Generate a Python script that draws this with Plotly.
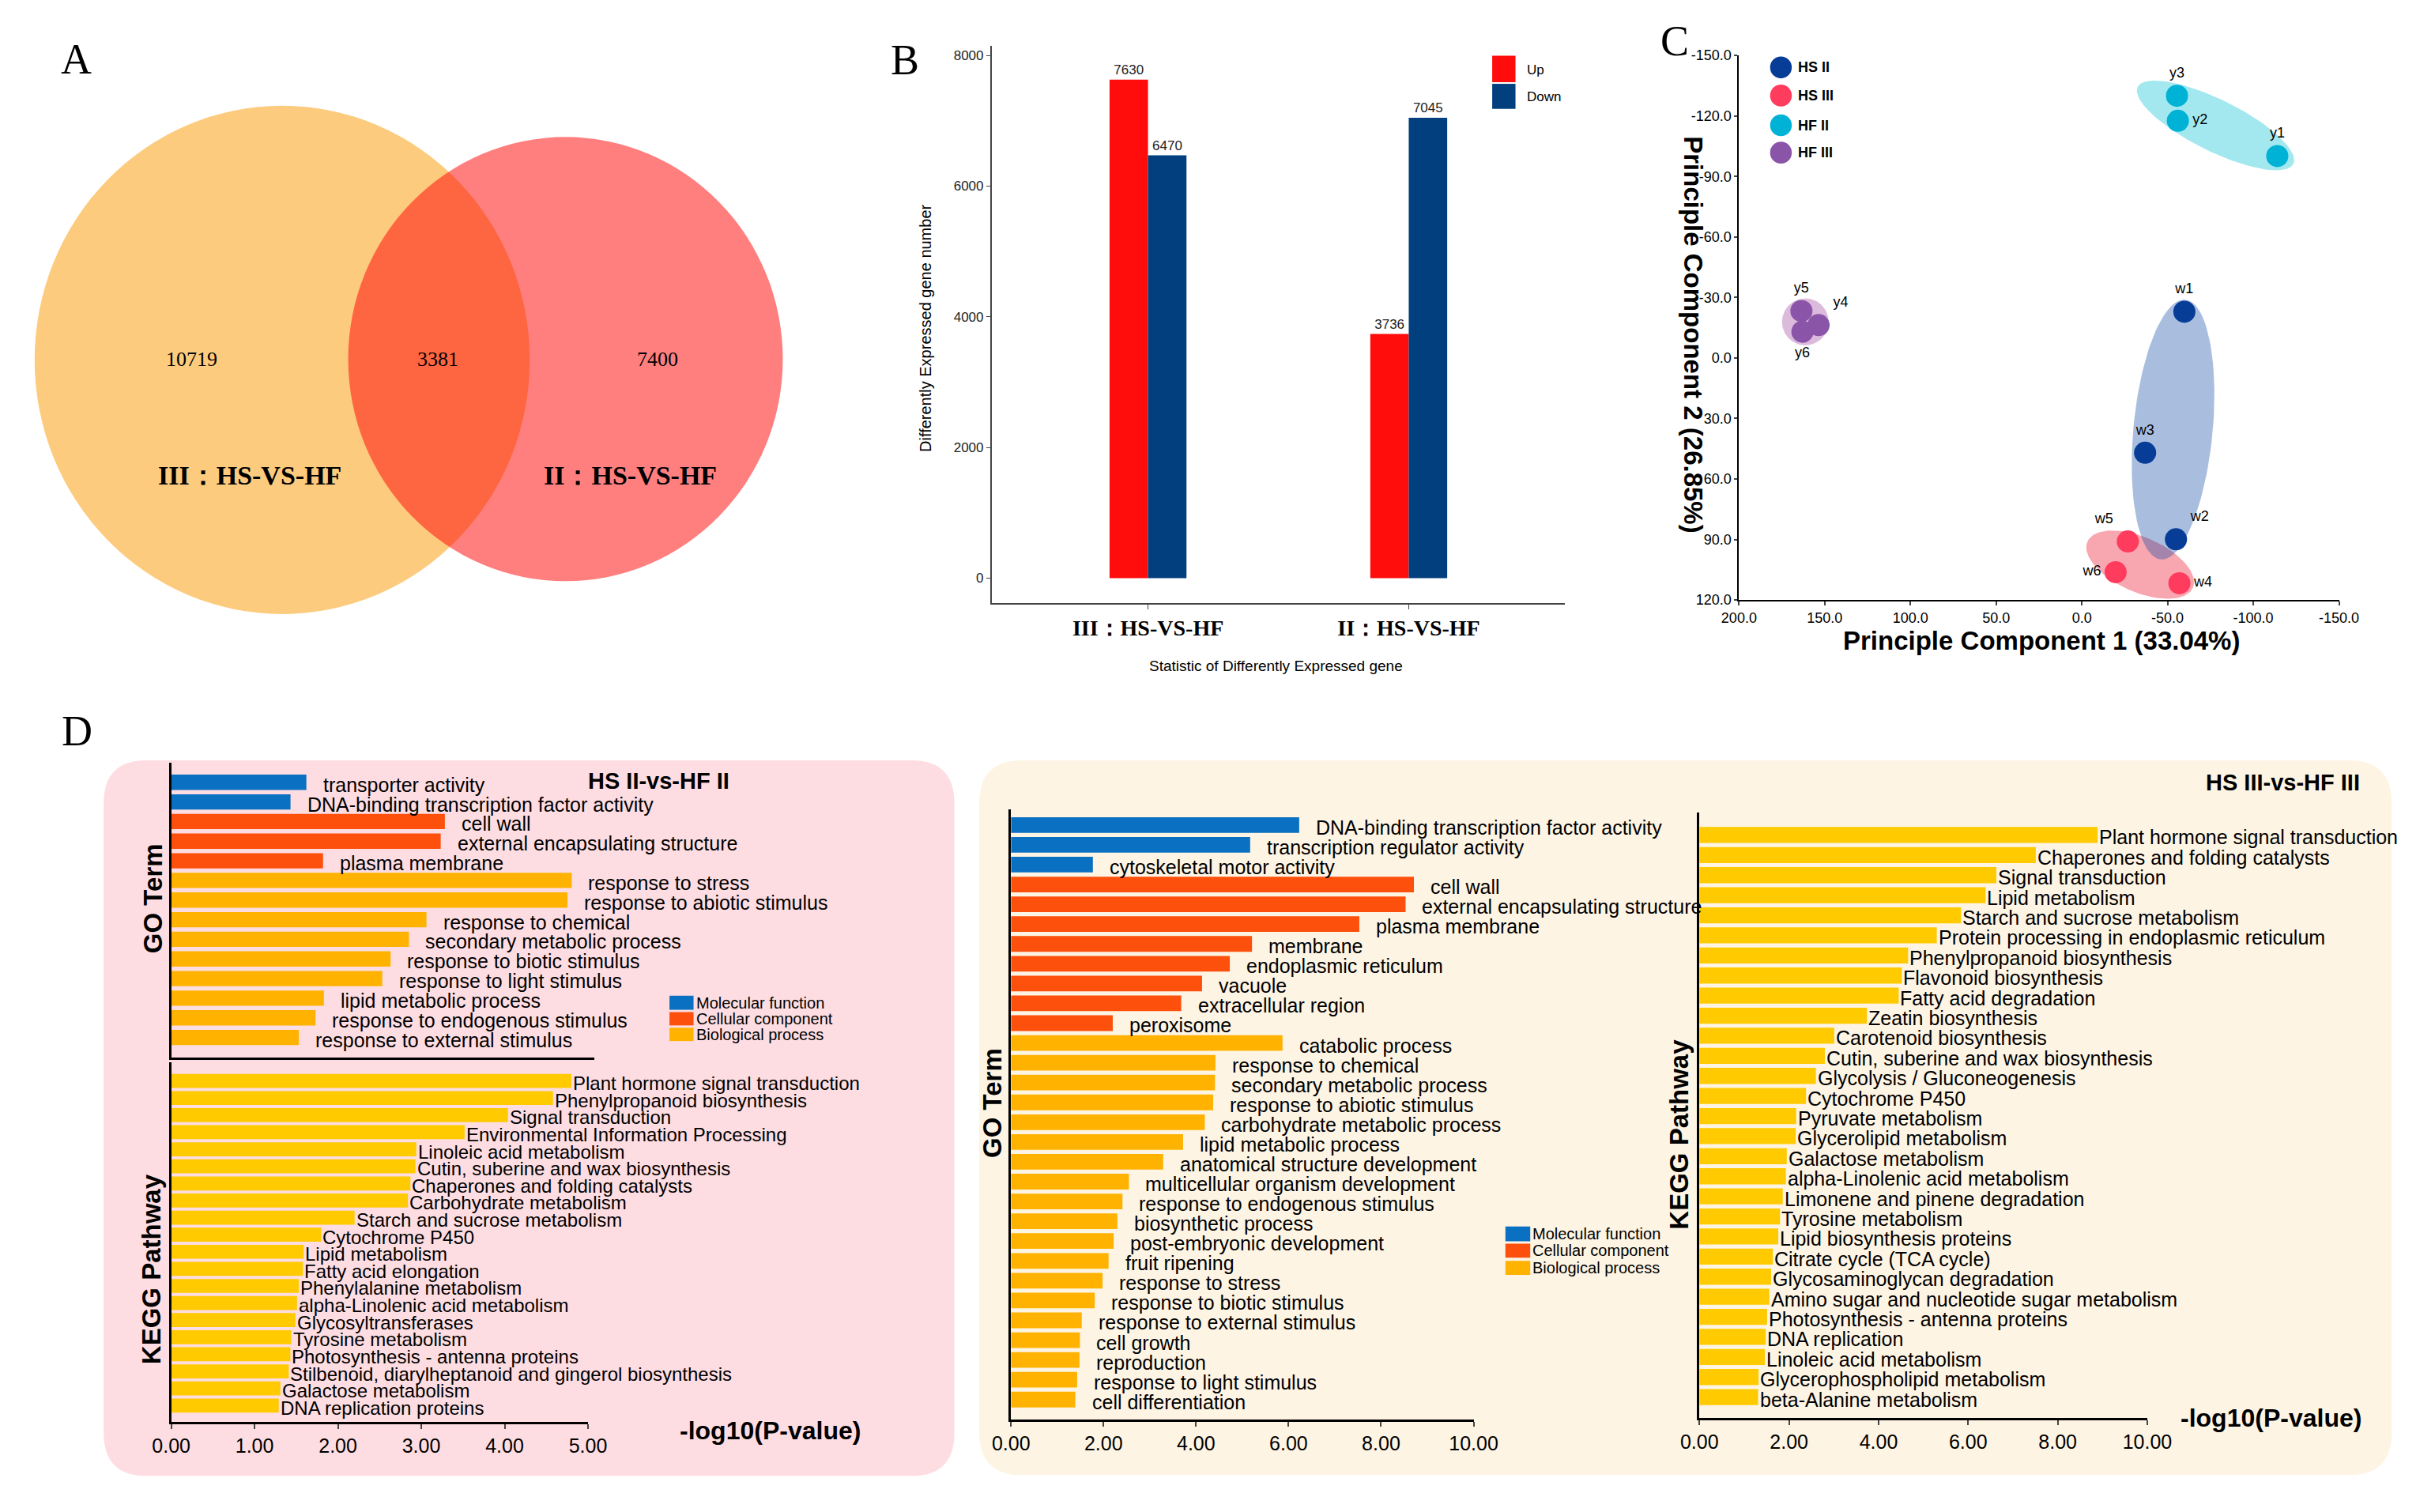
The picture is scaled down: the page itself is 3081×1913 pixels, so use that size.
import numpy as np
import plotly.graph_objects as go

W, H = 3081, 1913          # target picture size
OFF = 8                    # default page margin around the figure
FW, FH = W - 2 * OFF, H - 2 * OFF
SANS = "Liberation Sans, Arial, sans-serif"
SERIF = "Liberation Serif, Times New Roman, serif"

# ---------------- data ----------------
# A: Venn
venn_sets = ["III：HS-VS-HF", "II：HS-VS-HF"]
venn_only = [10719, 7400]
venn_shared = 3381

# B: DEG counts
deg_groups = ["III：HS-VS-HF", "II：HS-VS-HF"]
deg_up = [7630, 3736]
deg_down = [6470, 7045]

# C: PCA
pca_samples = ["w1", "w2", "w3", "w4", "w5", "w6", "y1", "y2", "y3", "y4", "y5", "y6"]
pca_group = ["HS II", "HS II", "HS II", "HS III", "HS III", "HS III",
             "HF II", "HF II", "HF II", "HF III", "HF III", "HF III"]
pc1 = [-59.8, -54.9, -36.9, -56.9, -26.8, -19.7, -114.0, -56.0, -55.5, 153.6, 163.6, 163.0]
pc2 = [-22.9, 89.9, 47.0, 111.7, 91.0, 106.2, -100.1, -117.6, -130.0, -16.3, -23.3, -13.0]
pca_groups = ["HS II", "HS III", "HF II", "HF III"]
pc_xticks = [200, 150, 100, 50, 0, -50, -100, -150]
pc_xticktext = ["200.0", "150.0", "100.0", "50.0", "0.0", "-50.0", "-100.0", "-150.0"]
pc_yticks = [-150, -120, -90, -60, -30, 0, 30, 60, 90, 120]
pc_yticktext = ["-150.0", "-120.0", "-90.0", "-60.0", "-30.0", "0.0", "30.0", "60.0", "90.0", "120.0"]
# ellipse: centre, half major-axis vector, half minor-axis vector (data units)
ell_center = {"HF II": (-78.0, -115.3), "HF III": (161.3, -17.9),
              "HS III": (-34.0, 102.5), "HS II": (-53.2, 35.5)}
ell_major = {"HF II": (-45.4, 19.05), "HF III": (13.6, 0.0),
             "HS III": (-30.8, 11.4), "HS II": (-7.2, -64.4)}
ell_minor = {"HF II": (6.6, 11.5), "HF III": (0.0, 11.6),
             "HS III": (6.3, 12.5), "HS II": (-23.0, 1.9)}

# D: enrichment
go_class_names = ["Molecular function", "Cellular component", "Biological process"]

go2_terms = ["transporter activity", "DNA-binding transcription factor activity", "cell wall",
             "external encapsulating structure", "plasma membrane", "response to stress",
             "response to abiotic stimulus", "response to chemical", "secondary metabolic process",
             "response to biotic stimulus", "response to light stimulus", "lipid metabolic process",
             "response to endogenous stimulus", "response to external stimulus"]
go2_class = ["MF", "MF", "CC", "CC", "CC", "BP", "BP", "BP", "BP", "BP", "BP", "BP", "BP", "BP"]
go2_vals = [1.62, 1.43, 3.28, 3.23, 1.82, 4.80, 4.75, 3.06, 2.85, 2.63, 2.53, 1.83, 1.73, 1.53]

kegg2_terms = ["Plant hormone signal transduction", "Phenylpropanoid biosynthesis", "Signal transduction",
               "Environmental Information Processing", "Linoleic acid metabolism",
               "Cutin, suberine and wax biosynthesis", "Chaperones and folding catalysts",
               "Carbohydrate metabolism", "Starch and sucrose metabolism", "Cytochrome P450",
               "Lipid metabolism", "Fatty acid elongation", "Phenylalanine metabolism",
               "alpha-Linolenic acid metabolism", "Glycosyltransferases", "Tyrosine metabolism",
               "Photosynthesis - antenna proteins", "Stilbenoid, diarylheptanoid and gingerol biosynthesis",
               "Galactose metabolism", "DNA replication proteins"]
kegg2_vals = [4.80, 4.58, 4.04, 3.52, 2.94, 2.93, 2.87, 2.84, 2.20, 1.80,
              1.59, 1.58, 1.53, 1.51, 1.49, 1.44, 1.43, 1.41, 1.31, 1.29]

go3_terms = ["DNA-binding transcription factor activity", "transcription regulator activity",
             "cytoskeletal motor activity", "cell wall", "external encapsulating structure",
             "plasma membrane", "membrane", "endoplasmic reticulum", "vacuole", "extracellular region",
             "peroxisome", "catabolic process", "response to chemical", "secondary metabolic process",
             "response to abiotic stimulus", "carbohydrate metabolic process", "lipid metabolic process",
             "anatomical structure development", "multicellular organism development",
             "response to endogenous stimulus", "biosynthetic process", "post-embryonic development",
             "fruit ripening", "response to stress", "response to biotic stimulus",
             "response to external stimulus", "cell growth", "reproduction",
             "response to light stimulus", "cell differentiation"]
go3_class = ["MF"] * 3 + ["CC"] * 8 + ["BP"] * 19
go3_vals = [6.23, 5.17, 1.77, 8.71, 8.53, 7.53, 5.21, 4.73, 4.13, 3.68, 2.20,
            5.87, 4.42, 4.41, 4.37, 4.19, 3.72, 3.29, 2.55, 2.41, 2.30, 2.22,
            2.11, 1.98, 1.81, 1.53, 1.49, 1.48, 1.43, 1.39]

kegg3_terms = ["Plant hormone signal transduction", "Chaperones and folding catalysts", "Signal transduction",
               "Lipid metabolism", "Starch and sucrose metabolism",
               "Protein processing in endoplasmic reticulum", "Phenylpropanoid biosynthesis",
               "Flavonoid biosynthesis", "Fatty acid degradation", "Zeatin biosynthesis",
               "Carotenoid biosynthesis", "Cutin, suberine and wax biosynthesis",
               "Glycolysis / Gluconeogenesis", "Cytochrome P450", "Pyruvate metabolism",
               "Glycerolipid metabolism", "Galactose metabolism", "alpha-Linolenic acid metabolism",
               "Limonene and pinene degradation", "Tyrosine metabolism", "Lipid biosynthesis proteins",
               "Citrate cycle (TCA cycle)", "Glycosaminoglycan degradation",
               "Amino sugar and nucleotide sugar metabolism", "Photosynthesis - antenna proteins",
               "DNA replication", "Linoleic acid metabolism", "Glycerophospholipid metabolism",
               "beta-Alanine metabolism"]
kegg3_vals = [8.89, 7.51, 6.63, 6.39, 5.84, 5.30, 4.66, 4.52, 4.45, 3.74, 3.01, 2.80, 2.60, 2.38,
              2.16, 2.15, 1.95, 1.93, 1.86, 1.80, 1.76, 1.64, 1.60, 1.56, 1.51, 1.48, 1.46, 1.32, 1.31]

# ---------------- styles ----------------
go_colors = {"MF": "#0A70C2", "CC": "#FD500C", "BP": "#FFB300"}
kegg_color = "#FFCA00"
up_color, down_color = "#FF0C0C", "#013F7E"
pca_colors = {"HS II": "#073C97", "HS III": "#FF3B5E", "HF II": "#00B2D6", "HF III": "#8A55A8"}
ell_fill = {"HS II": "rgba(9,69,163,0.35)", "HS III": "rgba(240,60,80,0.45)",
            "HF II": "rgba(0,190,210,0.36)", "HF III": "rgba(150,45,150,0.33)"}
pca_textpos = ["top center", "top right", "top center", "middle right", "top left", "middle left",
               "top center", "middle right", "top center", "top right", "top center", "bottom center"]


def PX(p):
    return (p - OFF) / FW


def PY(p):
    return 1 - (p - OFF) / FH


def dom_x(a, b):
    return [PX(a), PX(b)]


def dom_y(top, bottom):
    return [PY(bottom), PY(top)]


def font(size, bold=False, family=SANS, color="black"):
    return dict(family=family, size=size, color=color, weight="bold" if bold else "normal")


annotations = []
shapes = []


def ann(text, x, y, size, bold=False, family=SANS, angle=0, xanchor="center", yanchor="middle"):
    annotations.append(dict(text=text, x=PX(x), y=PY(y), xref="paper", yref="paper",
                            showarrow=False, font=font(size, bold, family), textangle=angle,
                            xanchor=xanchor, yanchor=yanchor))


def rrect(x0, y0, x1, y1, r, color):
    X0, X1, Yt, Yb = PX(x0), PX(x1), PY(y0), PY(y1)
    rx, ry = r / FW, r / FH
    path = (f"M {X0+rx},{Yt} L {X1-rx},{Yt} Q {X1},{Yt} {X1},{Yt-ry} "
            f"L {X1},{Yb+ry} Q {X1},{Yb} {X1-rx},{Yb} L {X0+rx},{Yb} "
            f"Q {X0},{Yb} {X0},{Yb+ry} L {X0},{Yt-ry} Q {X0},{Yt} {X0+rx},{Yt} Z")
    shapes.append(dict(type="path", path=path, xref="paper", yref="paper",
                       fillcolor=color, line=dict(width=0), layer="below"))


def prect(x0, y0, x1, y1, color):
    shapes.append(dict(type="rect", x0=PX(x0), x1=PX(x1), y0=PY(y1), y1=PY(y0),
                       xref="paper", yref="paper", fillcolor=color, line=dict(width=0)))


fig = go.Figure()

# ---------------- A: Venn ----------------
shapes.append(dict(type="circle", xref="paper", yref="paper", x0=PX(20), x1=PX(658),
                   y0=PY(775), y1=PY(125), fillcolor="#FDCB7E", line=dict(width=0)))
shapes.append(dict(type="circle", xref="paper", yref="paper", x0=PX(424), x1=PX(984),
                   y0=PY(733), y1=PY(165), fillcolor="rgba(255,9,9,0.52)", line=dict(width=0)))
ann(str(venn_only[0]), 222, 449, 26, family=SERIF)
ann(str(venn_shared), 540, 449, 26, family=SERIF)
ann(str(venn_only[1]), 823, 449, 26, family=SERIF)
ann(venn_sets[0], 297, 598, 34, bold=True, family=SERIF)
ann(venn_sets[1], 787, 598, 34, bold=True, family=SERIF)

# ---------------- B: bar chart ----------------
fig.add_trace(go.Bar(x=deg_groups, y=deg_up, name="Up", marker=dict(color=up_color, line=dict(width=0)),
                     text=[str(v) for v in deg_up], textposition="outside", textfont=font(17, color="#222"),
                     cliponaxis=False, xaxis="x2", yaxis="y2", showlegend=False))
fig.add_trace(go.Bar(x=deg_groups, y=deg_down, name="Down", marker=dict(color=down_color, line=dict(width=0)),
                     text=[str(v) for v in deg_down], textposition="outside", textfont=font(17, color="#222"),
                     cliponaxis=False, xaxis="x2", yaxis="y2", showlegend=False))
prect(1898, 61, 1928, 95, up_color)
prect(1898, 97, 1928, 129, down_color)
ann("Up", 1941, 79, 17, xanchor="left")
ann("Down", 1941, 114, 17, xanchor="left")
ann("Differently Expressed gene number", 1168, 410, 20, angle=-90)
ann("Statistic of Differently Expressed gene", 1619, 841, 19)

# ---------------- C: PCA ----------------
t = np.linspace(0, 2 * np.pi, 120)
for g in ["HF II", "HF III", "HS III", "HS II"]:
    cx, cy = ell_center[g]
    ux, uy = ell_major[g]
    vx, vy = ell_minor[g]
    ex = cx + ux * np.cos(t) + vx * np.sin(t)
    ey = cy + uy * np.cos(t) + vy * np.sin(t)
    fig.add_trace(go.Scatter(x=ex, y=ey, mode="lines", fill="toself", fillcolor=ell_fill[g],
                             line=dict(width=0), xaxis="x3", yaxis="y3", showlegend=False,
                             hoverinfo="skip"))
for g in pca_groups:
    idx = [i for i, gg in enumerate(pca_group) if gg == g]
    fig.add_trace(go.Scatter(x=[pc1[i] for i in idx], y=[pc2[i] for i in idx],
                             text=[pca_samples[i] for i in idx],
                             textposition=[pca_textpos[i] for i in idx],
                             mode="markers+text", marker=dict(size=28, color=pca_colors[g]),
                             textfont=font(18), cliponaxis=False,
                             xaxis="x3", yaxis="y3", showlegend=False, name=g))
for k, g in enumerate(pca_groups):
    cy = [76, 112, 150, 185][k]
    shapes.append(dict(type="circle", xref="paper", yref="paper", x0=PX(2256), x1=PX(2284),
                       y0=PY(cy + 14), y1=PY(cy - 14), fillcolor=pca_colors[g], line=dict(width=0)))
    ann(g, 2290, cy, 18, bold=True, xanchor="left")
ann("Principle Component 1 (33.04%)", 2606, 809, 33, bold=True)
ann("Principle Component 2 (26.85%)", 2157, 418, 33, bold=True, angle=90)

# ---------------- D ----------------
rrect(109, 962, 1205, 1877, 55, "#FDDDE1")
rrect(1237, 962, 3057, 1876, 55, "#FDF4E4")


def hbar(terms, vals, colors, xa, ya, width, gap, tsize=25):
    n = len(vals)
    fig.add_trace(go.Bar(x=vals, y=list(range(n)), orientation="h", width=width,
                         marker=dict(color=colors, line=dict(width=0)),
                         xaxis=xa, yaxis=ya, showlegend=False, hoverinfo="skip"))
    for i, (term, v) in enumerate(zip(terms, vals)):
        annotations.append(dict(text=term, x=v, y=i, xref=xa, yref=ya, showarrow=False,
                                xanchor="left", yanchor="middle", xshift=gap, yshift=-3,
                                font=font(tsize)))


hbar(go2_terms, go2_vals, [go_colors[c] for c in go2_class], "x4", "y4", 0.78, 19)
hbar(kegg2_terms, kegg2_vals, [kegg_color] * len(kegg2_vals), "x5", "y5", 0.82, 0, 24)
hbar(go3_terms, go3_vals, [go_colors[c] for c in go3_class], "x6", "y6", 0.79, 19)
hbar(kegg3_terms, kegg3_vals, [kegg_color] * len(kegg3_vals), "x7", "y7", 0.80, 0)

# legends for GO classes
for k, c in enumerate(["MF", "CC", "BP"]):
    y0, y1 = [(1263, 1281), (1284, 1301), (1304, 1321)][k]
    prect(838, y0, 869, y1, go_colors[c])
    ann(go_class_names[k], 870, (y0 + y1) / 2, 20, xanchor="left")
    y0, y1 = [(1558, 1577), (1580, 1598), (1602, 1620)][k]
    prect(1915, y0, 1947, y1, go_colors[c])
    ann(go_class_names[k], 1948, (y0 + y1) / 2, 20, xanchor="left")

ann("HS II-vs-HF II", 824, 988, 29, bold=True)
ann("HS III-vs-HF III", 2917, 990, 29, bold=True)
ann("GO Term", 172, 1139, 33, bold=True, angle=-90)
ann("KEGG Pathway", 170, 1613, 33, bold=True, angle=-90)
ann("GO Term", 1254, 1400, 33, bold=True, angle=-90)
ann("KEGG Pathway", 2139, 1440, 33, bold=True, angle=-90)
ann("-log10(P-value)", 968, 1819, 32, bold=True)
ann("-log10(P-value)", 2901, 1803, 32, bold=True)

# panel letters
ann("A", 74, 66, 54, family=SERIF)
ann("B", 1141, 67, 54, family=SERIF)
ann("C", 2133, 42, 54, family=SERIF)
ann("D", 75, 925, 54, family=SERIF)

# ---------------- axes ----------------
axline = dict(showline=True, linecolor="black", linewidth=2.5, showgrid=False, zeroline=False)
layout = dict(
    width=FW, height=FH, margin=dict(l=0, r=0, t=0, b=0),
    paper_bgcolor="white", plot_bgcolor="rgba(0,0,0,0)",
    barmode="group", bargap=0.705, bargroupgap=0,
    showlegend=False, font=dict(family=SANS, color="black"),
    xaxis2=dict(domain=dom_x(1253, 1992), anchor="y2", type="category", categoryarray=deg_groups,
                range=[-0.6, 1.6], showline=True, linecolor="#444", linewidth=1.5, ticks="outside",
                ticklen=6, tickcolor="#444", tickfont=font(28, True, SERIF), showgrid=False),
    yaxis2=dict(domain=dom_y(48, 761), anchor="x2", range=[-383, 8152],
                tickvals=[0, 2000, 4000, 6000, 8000], tickformat="d", showline=True, linecolor="#444",
                linewidth=1.5, ticks="outside", ticklen=5, tickcolor="#444",
                tickfont=font(17, color="#222"), showgrid=False, zeroline=False),
    xaxis3=dict(domain=dom_x(2216, 2989), anchor="y3", range=[200, -150], tickvals=pc_xticks,
                ticktext=pc_xticktext, ticks="outside", ticklen=5, tickwidth=1.5,
                tickfont=font(18), showline=True, linecolor="black", linewidth=2,
                showgrid=False, zeroline=False),
    yaxis3=dict(domain=dom_y(60.7, 757), anchor="x3", range=[120, -150], tickvals=pc_yticks,
                ticktext=pc_yticktext, ticks="outside", ticklen=4, tickwidth=1.5,
                tickfont=font(18), showline=True, linecolor="black", linewidth=2,
                showgrid=False, zeroline=False),
    xaxis4=dict(domain=dom_x(196, 741), anchor="y4", range=[0, 5.07], showticklabels=False,
                ticks="", **axline),
    yaxis4=dict(domain=dom_y(965, 1342), anchor="x4", range=[14.02, -1.0], showticklabels=False,
                ticks="", **axline),
    xaxis5=dict(domain=dom_x(196, 733), anchor="y5", range=[0, 5], tickvals=[0, 1, 2, 3, 4, 5],
                tickformat=".2f", ticks="outside", ticklen=6, tickwidth=2, tickfont=font(25), **axline),
    yaxis5=dict(domain=dom_y(1348, 1808), anchor="x5", range=[19.96, -1.10], showticklabels=False,
                ticks="", **axline),
    xaxis6=dict(domain=dom_x(1278, 1874), anchor="y6", range=[0, 10], tickvals=[0, 2, 4, 6, 8, 10],
                tickformat=".2f", ticks="outside", ticklen=6, tickwidth=2, tickfont=font(25), **axline),
    yaxis6=dict(domain=dom_y(1025, 1805), anchor="x6", range=[30.01, -0.78], showticklabels=False,
                ticks="", **axline),
    xaxis7=dict(domain=dom_x(2165, 2742), anchor="y7", range=[0, 10], tickvals=[0, 2, 4, 6, 8, 10],
                tickformat=".2f", ticks="outside", ticklen=6, tickwidth=2, tickfont=font(25), **axline),
    yaxis7=dict(domain=dom_y(1029, 1803), anchor="x7", range=[29.04, -1.11], showticklabels=False,
                ticks="", **axline),
    xaxis=dict(visible=False, domain=[0, 0.01]),
    yaxis=dict(visible=False, domain=[0, 0.01]),
    annotations=annotations,
    shapes=shapes,
)
fig.update_layout(**layout)
fig.write_html("out.html")
